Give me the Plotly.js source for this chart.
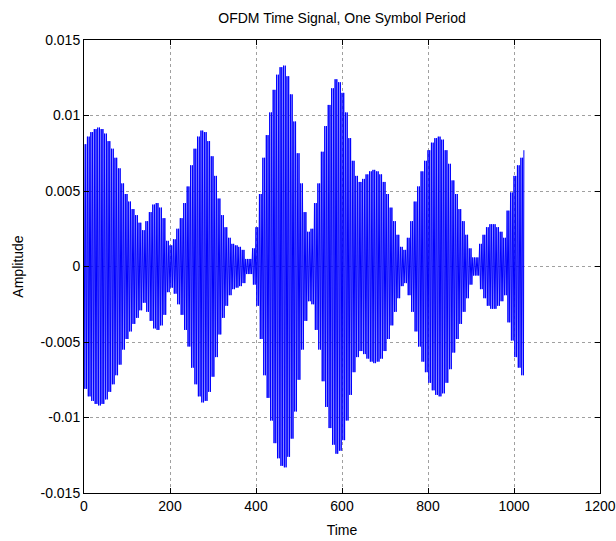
<!DOCTYPE html>
<html>
<head>
<meta charset="utf-8">
<script src="https://cdn.plot.ly/plotly-3.0.1.min.js"></script>
<style>html,body{margin:0;padding:0;background:#fff;}#chart{width:616px;height:541px;}</style>
</head>
<body>
<div id="chart"></div>
<script>
// Envelope of the OFDM time signal: one peak amplitude per 8-sample block
const samplesPerBlock = 8;
const cyclesPerBlock = 2;
const envelope = [
  0.0081, 0.0086, 0.0089, 0.0091, 0.0092, 0.0091, 0.0088, 0.0083, 0.0078, 0.0072,
  0.0065, 0.0055, 0.0048, 0.0043, 0.0038, 0.0034, 0.0029, 0.0024, 0.0030, 0.0036,
  0.0041, 0.0042, 0.0039, 0.0032, 0.0017, 0.0014, 0.0018, 0.0025, 0.0032, 0.0042,
  0.0053, 0.0067, 0.0078, 0.0086, 0.0090, 0.0089, 0.0083, 0.0073, 0.0060, 0.0045,
  0.0034, 0.0026, 0.0019, 0.0015, 0.0014, 0.0013, 0.0011, 0.0005, 0.0005, 0.0012,
  0.0026, 0.0048, 0.0072, 0.0087, 0.0102, 0.0117, 0.0127, 0.0132, 0.0133, 0.0126,
  0.0114, 0.0096, 0.0075, 0.0055, 0.0036, 0.0023, 0.0025, 0.0042, 0.0055, 0.0076,
  0.0093, 0.0107, 0.0118, 0.0124, 0.0122, 0.0115, 0.0102, 0.0085, 0.0070, 0.0060,
  0.0056, 0.0058, 0.0061, 0.0063, 0.0064, 0.0063, 0.0061, 0.0056, 0.0048, 0.0039,
  0.0030, 0.0021, 0.0013, 0.0011, 0.0019, 0.0030, 0.0043, 0.0053, 0.0063, 0.0070,
  0.0077, 0.0082, 0.0085, 0.0086, 0.0084, 0.0077, 0.0068, 0.0057, 0.0048, 0.0038,
  0.0030, 0.0021, 0.0012, 0.0006, 0.0006, 0.0015, 0.0021, 0.0026, 0.0028, 0.0028,
  0.0026, 0.0023, 0.0019, 0.0037, 0.0049, 0.0060, 0.0067, 0.0072
];
const lastSample = 1023;
const lastValue = 0.0077;

const xTickVals = [0, 200, 400, 600, 800, 1000, 1200];
const xTickText = ['0', '200', '400', '600', '800', '1000', '1200'];
const yTickVals = [-0.015, -0.01, -0.005, 0, 0.005, 0.01, 0.015];
const yTickText = ['-0.015', '-0.01', '-0.005', '0', '0.005', '0.01', '0.015'];

// Build the oscillating trace: within each block the carrier swings between +peak and -peak
const xs = [], ys = [];
const half = samplesPerBlock / (2 * cyclesPerBlock);
envelope.forEach((a, k) => {
  for (let j = 0; j < 2 * cyclesPerBlock; j++) {
    xs.push(k * samplesPerBlock + j * half);
    ys.push(j % 2 === 0 ? a : -a);
  }
});
xs.push(lastSample); ys.push(lastValue);

const font = {family: 'Liberation Sans, Arial, sans-serif', size: 14, color: '#000'};

const trace = {
  x: xs, y: ys, type: 'scatter', mode: 'lines',
  line: {color: '#0000ff', width: 1},
  hoverinfo: 'skip'
};

const axisCommon = {
  showline: true, linecolor: '#000', linewidth: 1, mirror: 'ticks',
  ticks: 'inside', ticklen: 5, tickcolor: '#000', tickwidth: 1,
  showgrid: true, gridcolor: '#a0a0a0', griddash: 'dot', gridwidth: 1,
  zeroline: false, tickfont: font, tickmode: 'array'
};

const layout = {
  width: 616, height: 541,
  margin: {l: 84, r: 16, t: 40, b: 48},
  paper_bgcolor: '#fff', plot_bgcolor: '#fff',
  showlegend: false,
  font: font,
  title: {text: 'OFDM Time Signal, One Symbol Period', font: {family: font.family, size: 14, color: '#000'},
          x: 0.5, xref: 'paper', xanchor: 'center', y: 1 - 18 / 541, yref: 'container', yanchor: 'middle'},
  xaxis: Object.assign({}, axisCommon, {
    range: [0, 1200], tickvals: xTickVals, ticktext: xTickText,
    title: {text: 'Time', font: font, standoff: 12}
  }),
  yaxis: Object.assign({}, axisCommon, {
    range: [-0.015, 0.015], tickvals: yTickVals, ticktext: yTickText,
    title: {text: 'Amplitude', font: font, standoff: 13}
  })
};

Plotly.newPlot('chart', [trace], layout, {displayModeBar: false, staticPlot: true});
</script>
</body>
</html>
